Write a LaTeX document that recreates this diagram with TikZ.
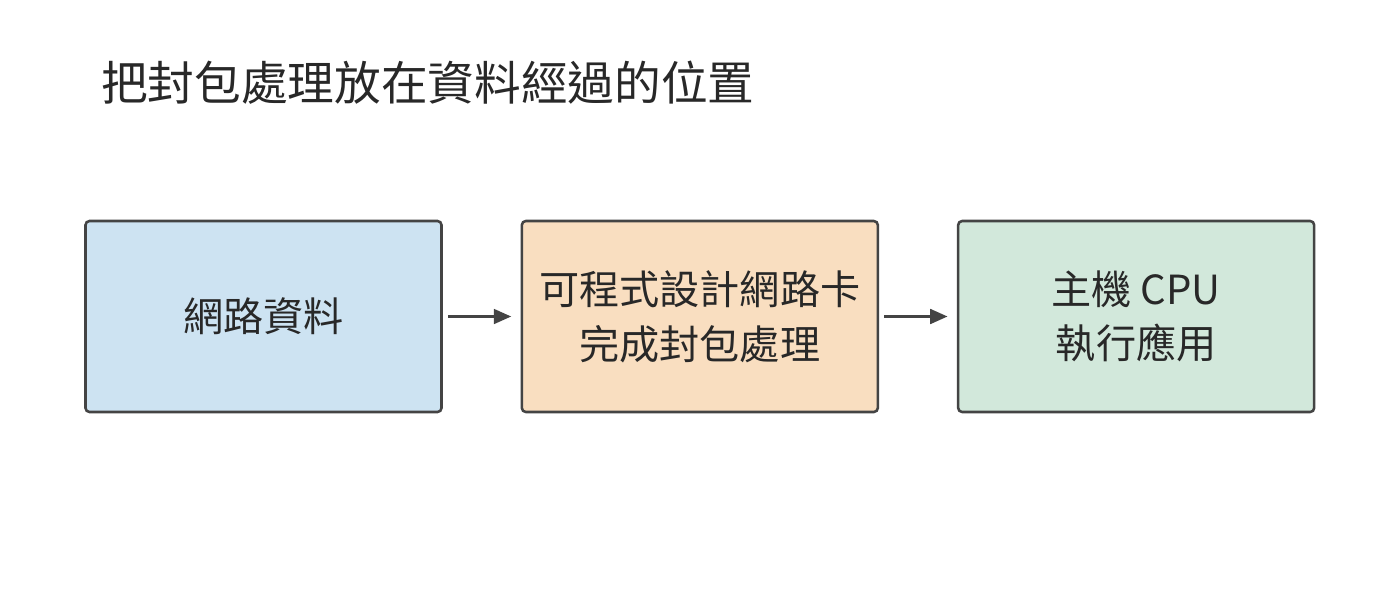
\documentclass[tikz,border=0pt]{standalone}
\usepackage{fontspec}
\setmainfont{Noto Sans CJK TC}
\usetikzlibrary{positioning,arrows.meta}
\definecolor{netblue}{RGB}{205,227,242}
\definecolor{nicpeach}{RGB}{249,222,192}
\definecolor{hostgreen}{RGB}{210,232,219}
\definecolor{edgegray}{RGB}{68,68,68}
\definecolor{textgray}{RGB}{40,40,40}

\begin{document}
\begin{tikzpicture}[x=0.75pt, y=-0.75pt, node distance=58.35pt,
    >={Triangle[length=13pt,width=11pt]}]
    \tikzstyle{stage}=[draw=edgegray, line width=1.9pt, rounded corners=3pt,
        minimum width=267pt, minimum height=143.25pt, align=center,
        text=textgray, font=\fontsize{30.1}{41}\selectfont, inner sep=0pt]
    \tikzstyle{flow}=[->, draw=edgegray, fill=edgegray, line width=2pt, shorten >=7pt, shorten <=4pt]
    \useasboundingbox (0,0) rectangle (1400,600);
    \fill[white] (0,0) rectangle (1400,600);
    \node[anchor=west, text=textgray, inner sep=0pt,
          font=\fontsize{35}{42}\selectfont] (title) at (101,83) {把封包處理放在資料經過的位置};
    \node[stage, fill=netblue]   (net)                 at (263.5,316.5) {網路資料};
    \node[stage, fill=nicpeach]  (nic)  [right=of net] {可程式設計網路卡\\完成封包處理};
    \node[stage, fill=hostgreen] (host) [right=of nic] {主機 CPU\\執行應用};
    \path
(net) edge[flow] (nic)
(nic) edge[flow] (host);
\end{tikzpicture}
\end{document}
